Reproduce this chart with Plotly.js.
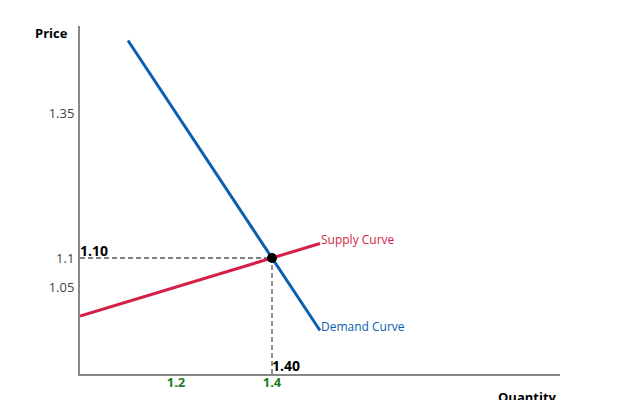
<!DOCTYPE html>
<html><head><meta charset="utf-8">
<script src="https://cdn.plot.ly/plotly-3.0.1.min.js"></script>
<style>html,body{margin:0;padding:0;background:#fff}#chart{width:640px;height:400px}</style>
</head><body><div id="chart"></div>
<script>
const demandQ = [1.1, 1.5];
const demandP = [1.475, 0.975];
const supplyQ = [1.0, 1.5];
const supplyP = [1.0, 1.125];
const eqQ = [1.4];
const eqP = [1.1];
const yTickVals = [1.05, 1.1, 1.35];
const yTickText = ['1.05', '1.1', '1.35'];
const xTickVals = [1.2, 1.4];
const xTickText = ['1.2', '1.4'];

const FONT = 'Open Sans, Noto Sans, sans-serif';
const traces = [
  {x: [1.0, eqQ[0]], y: [eqP[0], eqP[0]], mode: 'lines', line: {color: '#555', width: 1.3, dash: '5px,3px'}, hoverinfo: 'skip'},
  {x: [eqQ[0], eqQ[0]], y: [0.9, eqP[0]], mode: 'lines', line: {color: '#555', width: 1.3, dash: '5px,3px'}, hoverinfo: 'skip'},
  {x: supplyQ, y: supplyP, mode: 'lines', line: {color: '#d41f48', width: 3}},
  {x: demandQ, y: demandP, mode: 'lines', line: {color: '#0a60ae', width: 3}},
  {x: eqQ, y: eqP, mode: 'markers', marker: {color: '#000', size: 10}}
];
const layout = {
  width: 640, height: 400,
  margin: {l: 80, r: 80, t: 26, b: 26},
  showlegend: false,
  paper_bgcolor: '#fff', plot_bgcolor: '#fff',
  font: {family: FONT, size: 12, color: '#444'},
  xaxis: {range: [1.0, 2.0], tickvals: xTickVals, ticktext: xTickText, showgrid: false, zeroline: false,
    showline: true, linecolor: '#888', linewidth: 2, ticks: '', ticklabelstandoff: -5,
    tickfont: {family: FONT, size: 13, color: '#1e7b1e', weight: 'bold'}},
  yaxis: {range: [0.9, 1.5], tickvals: yTickVals, ticktext: yTickText, showgrid: false, zeroline: false,
    showline: true, linecolor: '#888', linewidth: 2, ticks: '', ticklabelstandoff: 1,
    tickfont: {family: FONT, size: 13, color: '#444'}},
  annotations: [
    {x: 1.0, y: 1.1, xref: 'x', yref: 'y', text: '<b>1.10</b>', showarrow: false, xanchor: 'left', yanchor: 'bottom', xshift: -2, yshift: -4, font: {size: 14, color: '#000'}},
    {x: 1.4, y: 0.9, xref: 'x', yref: 'y', text: '<b>1.40</b>', showarrow: false, xanchor: 'left', yanchor: 'bottom', xshift: -2, yshift: -3, font: {size: 14, color: '#000'}},
    {x: supplyQ[1], y: supplyP[1], xref: 'x', yref: 'y', text: 'Supply Curve', showarrow: false, xanchor: 'left', yanchor: 'middle', xshift: -1, yshift: 4, font: {size: 12, color: '#d41f48'}},
    {x: demandQ[1], y: demandP[1], xref: 'x', yref: 'y', text: 'Demand Curve', showarrow: false, xanchor: 'left', yanchor: 'middle', xshift: -1, yshift: 4, font: {size: 12, color: '#0a60ae'}},
    {x: 0, y: 1, xref: 'paper', yref: 'paper', text: '<b>Price</b>', showarrow: false, xanchor: 'right', yanchor: 'middle', xshift: -10, yshift: -7, font: {size: 13, color: '#000'}},
    {x: 1, y: 0, xref: 'paper', yref: 'paper', text: '<b>Quantity</b>', showarrow: false, xanchor: 'right', yanchor: 'middle', xshift: -1, yshift: -23, font: {size: 13, color: '#000'}}
  ]
};
Plotly.newPlot('chart', traces, layout, {displayModeBar: false, staticPlot: true});
</script></body></html>
